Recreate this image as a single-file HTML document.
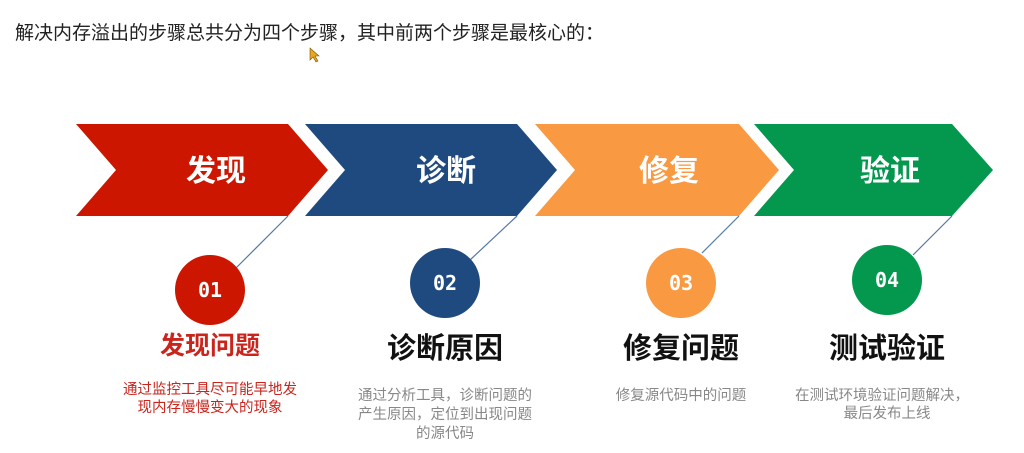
<!DOCTYPE html>
<html><head><meta charset="utf-8"><style>
html,body{margin:0;padding:0;background:#fff;}
body{width:1024px;height:448px;overflow:hidden;}
text{font-family:"Liberation Sans","Noto Sans CJK SC",sans-serif;}
.mono{font-family:"DejaVu Sans Mono","Liberation Mono",monospace;font-weight:bold;}
</style></head><body>
<svg width="1024" height="448" viewBox="0 0 1024 448" xmlns="http://www.w3.org/2000/svg">
<text x="15" y="39" font-size="19" fill="#222">解决内存溢出的步骤总共分为四个步骤，其中前两个步骤是最核心的：</text>
<path d="M310,48 L310,60 L313,57 L316,62 L318,61 L315,56 L319,56 Z" fill="#e8a623" stroke="#7a5200" stroke-width="0.6"/>

<polygon points="76,124 288,124 328,170 288,216 76,216 116,170" fill="#cc1600"/>
<polygon points="305,124 517,124 557,170 517,216 305,216 345,170" fill="#1f4a80"/>
<polygon points="535,124 739,124 779,170 739,216 535,216 575,170" fill="#f99a43"/>
<polygon points="754,124 952,124 993,170 952,216 754,216 794,170" fill="#03984d"/>

<g font-size="30" font-weight="bold" fill="#fff" text-anchor="middle">
<text x="216" y="181">发现</text>
<text x="446" y="181">诊断</text>
<text x="669" y="181">修复</text>
<text x="890" y="181">验证</text>
</g>

<g stroke="#5577aa" stroke-width="1.2">
<line x1="236" y1="268" x2="288" y2="216"/>
<line x1="470" y1="260" x2="517" y2="216"/>
<line x1="702" y1="253" x2="739" y2="216"/>
<line x1="913" y1="255" x2="952" y2="216"/>
</g>

<circle cx="210" cy="290" r="35" fill="#cc1600"/>
<circle cx="445" cy="283" r="35" fill="#1f4a80"/>
<circle cx="681" cy="283" r="35" fill="#f99a43"/>
<circle cx="887" cy="280" r="35" fill="#03984d"/>
<g class="mono" font-size="20" fill="#fff" text-anchor="middle">
<text x="210" y="297" class="mono">01</text>
<text x="445" y="290" class="mono">02</text>
<text x="681" y="290" class="mono">03</text>
<text x="887" y="287" class="mono">04</text>
</g>

<g font-weight="bold" text-anchor="middle">
<text x="210" y="354" font-size="25" fill="#c9251c">发现问题</text>
<text x="445" y="358" font-size="29" fill="#111">诊断原因</text>
<text x="681" y="358" font-size="29" fill="#111">修复问题</text>
<text x="887" y="358" font-size="29" fill="#111">测试验证</text>
</g>

<g font-size="14.5" text-anchor="middle">
<text x="210" y="394" fill="#c9251c">通过监控工具尽可能早地发</text>
<text x="210" y="412" fill="#c9251c">现内存慢慢变大的现象</text>
<text x="445" y="400" fill="#888">通过分析工具，诊断问题的</text>
<text x="445" y="419" fill="#888">产生原因，定位到出现问题</text>
<text x="445" y="438" fill="#888">的源代码</text>
<text x="681" y="400" fill="#888">修复源代码中的问题</text>
<text x="882" y="400" fill="#888">在测试环境验证问题解决，</text>
<text x="887" y="418" fill="#888">最后发布上线</text>
</g>
</svg>
</body></html>
